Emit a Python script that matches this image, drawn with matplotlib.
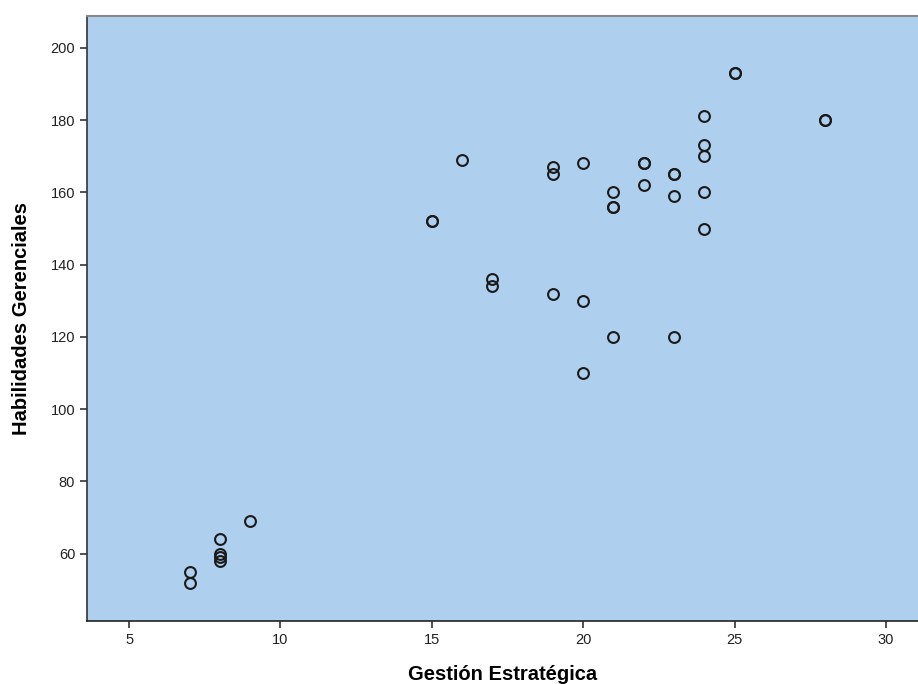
import matplotlib.pyplot as plt

# puntos (los repetidos se dibujan dos veces)
gestion = [7, 7, 8, 8, 8, 8, 9,
           15, 15, 16, 17, 17, 19, 19, 19,
           20, 20, 20, 21, 21, 21, 21,
           22, 22, 22, 23, 23, 23, 23,
           24, 24, 24, 24, 24, 25, 25, 28, 28]
habilidades = [55, 52, 64, 60, 59, 58, 69,
               152, 152, 169, 136, 134, 167, 165, 132,
               168, 130, 110, 160, 156, 156, 120,
               168, 168, 162, 165, 165, 159, 120,
               181, 173, 170, 160, 150, 193, 193, 180, 180]

xticks = [5, 10, 15, 20, 25, 30]
yticks = [60, 80, 100, 120, 140, 160, 180, 200]

plt.rcParams['font.family'] = ['Liberation Sans', 'DejaVu Sans']

fig = plt.figure(figsize=(9.18, 6.84), dpi=100)
ax = fig.add_axes([87 / 918, 63 / 684, 1 - 87 / 918, 605 / 684])
ax.set_facecolor('#AECFED')

ax.plot(gestion, habilidades, linestyle='none', marker='o', markersize=7.8,
        markerfacecolor='none', markeredgecolor='#1a1a1a', markeredgewidth=1.5)

ax.set_xlim(3.61, 31.06)
ax.set_ylim(41.4, 208.8)
ax.set_xticks(xticks)
ax.set_yticks(yticks)
ax.tick_params(direction='out', length=5, width=1.2, color='#333333',
               labelsize=10.5, labelcolor='#222222')

ax.spines['right'].set_visible(False)
ax.spines['top'].set_color('#888888')
ax.spines['top'].set_linewidth(1.5)
ax.spines['left'].set_color('#333333')
ax.spines['bottom'].set_color('#222222')
ax.spines['left'].set_linewidth(1.2)
ax.spines['bottom'].set_linewidth(1.2)

ax.set_xlabel('Gestión Estratégica', fontsize=14.5, fontweight='bold', labelpad=13)
ax.set_ylabel('Habilidades Gerenciales', fontsize=14.5, fontweight='bold', labelpad=14)

fig.savefig('out.png', dpi=100)
